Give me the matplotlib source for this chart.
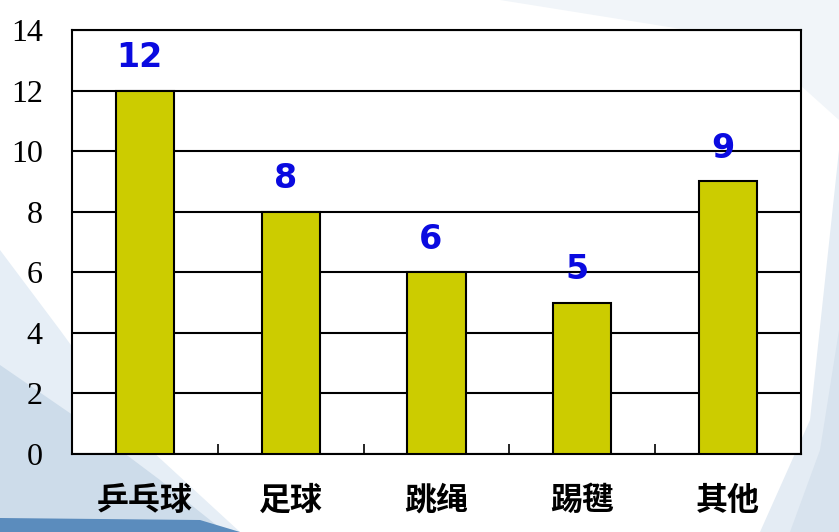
import matplotlib
matplotlib.use("Agg")
import matplotlib.pyplot as plt
from matplotlib.patches import Polygon

categories = ["乒乓球", "足球", "跳绳", "踢毽", "其他"]
values = [12, 8, 6, 5, 9]
yticks = [0, 2, 4, 6, 8, 10, 12, 14]

W, H = 839, 532
fig = plt.figure(figsize=(W/100, H/100), dpi=100)
fig.patch.set_facecolor("white")

def px(pts):
    return [(x / W, 1 - y / H) for x, y in pts]

# decorative background swooshes (pixel coords)
deco = [
    (px([(0, 532), (0, 250), (60, 330), (140, 440), (240, 532)]), "#e6eef6", 1.0),
    (px([(0, 532), (0, 365), (80, 420), (160, 480), (225, 532)]), "#cddcea", 1.0),
    (px([(0, 532), (0, 518), (200, 520), (240, 532)]), "#5b8cbd", 1.0),
    (px([(839, 150), (839, 532), (760, 532), (810, 420)]), "#e4ecf4", 1.0),
    (px([(839, 330), (839, 532), (790, 532), (820, 450)]), "#d8e3ee", 1.0),
    (px([(500, 0), (839, 0), (839, 120), (750, 40)]), "#f1f5f9", 1.0),
]
for pts, c, a in deco:
    fig.patches.append(Polygon(pts, closed=True, transform=fig.transFigure,
                               facecolor=c, edgecolor="none", alpha=a, zorder=-5))

ax = fig.add_axes([72/W, 1-454/H, (801-72)/W, (454-30)/H])
ax.set_facecolor("white")

x = list(range(len(categories)))
ax.bar(x, values, width=0.4, color="#cccc00", edgecolor="black", linewidth=1.5, zorder=3)

for xi, v in zip(x, values):
    ax.annotate(str(v), (xi, v), xytext=(-4, 12), textcoords="offset points",
                ha="center", va="bottom", color="#0a0ae0", fontsize=24,
                fontweight="bold", family="DejaVu Sans", zorder=4)

ax.set_xlim(-0.5, len(categories) - 0.5)
ax.set_ylim(0, 14)
ax.set_yticks(yticks)
ax.set_yticklabels([str(t) for t in yticks], family="Liberation Serif", fontsize=23)
ax.tick_params(axis="y", length=0, pad=21)

ax.yaxis.grid(True, color="black", linewidth=1.5, zorder=1)
ax.set_axisbelow(True)

ax.set_xticks([i + 0.5 for i in range(len(categories) - 1)])
ax.set_xticklabels([])
ax.tick_params(axis="x", which="major", direction="in", length=7, width=1.2)
ax.set_xticks(x, minor=True)
ax.set_xticklabels(categories, minor=True, family=["Noto Sans CJK SC", "DejaVu Sans"],
                   fontsize=23, fontweight="bold")
ax.tick_params(axis="x", which="minor", length=0, pad=22)

for s in ax.spines.values():
    s.set_color("black")
    s.set_linewidth(1.5)

fig.savefig("out.png", dpi=100, facecolor=fig.get_facecolor())
